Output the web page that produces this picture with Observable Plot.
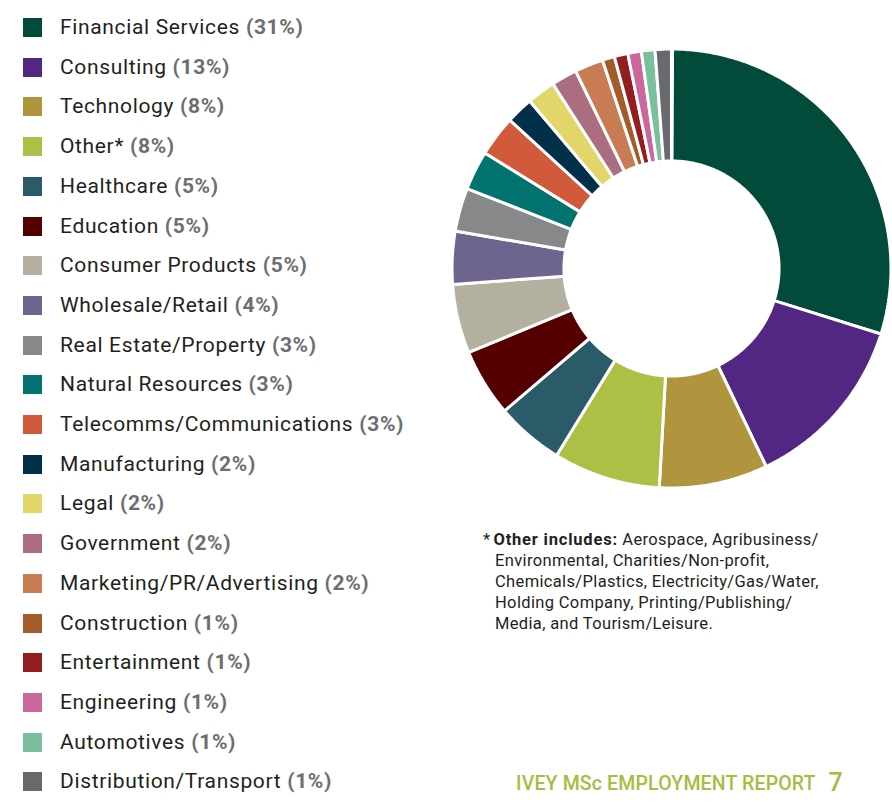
<!DOCTYPE html>
<html>
<head>
<meta charset="utf-8">
<script src="https://cdn.jsdelivr.net/npm/d3@7"></script>
<script src="https://cdn.jsdelivr.net/npm/@observablehq/plot@0.6"></script>
<style>
  html, body { margin: 0; padding: 0; background: #fff; }
  body { width: 892px; height: 804px; position: relative; overflow: hidden; font-family: Roboto, "Noto Sans", sans-serif; color: #231f20; }
  #legend { position: absolute; left: 0; top: 0; }
  .row { position: absolute; left: 0; height: 24px; white-space: nowrap; }
  .sw { position: absolute; left: 23px; top: 2px; width: 19px; height: 19px; }
  .lab { position: absolute; left: 60px; top: -2px; font-size: 21px; line-height: 26px; letter-spacing: 0.65px; }
  .lab b { color: #6d6e71; font-weight: 700; }
  #chart { position: absolute; left: 450px; top: 47px; }
  #note { position: absolute; left: 483px; top: 529px; font-size: 16.5px; line-height: 21px; color: #231f20; letter-spacing: 0.35px; white-space: nowrap; }
  #note .line { padding-left: 12px; }
  #note .first { text-indent: -12px; }
  #note .star { margin-right: 3px; }
  #note b { font-weight: 700; letter-spacing: 0.8px; }
  #footer { position: absolute; left: 516px; top: 767px; color: #a8bc42; font-size: 19.5px; font-weight: 500; letter-spacing: 0.15px; white-space: nowrap; }
  #footer .num { font-size: 25px; margin-left: 13px; position: relative; top: 1px; }
</style>
</head>
<body>
<div id="legend"></div>
<div id="chart"></div>
<div id="note">
  <div class="line first"><span class="star">*</span><b>Other includes:</b> Aerospace, Agribusiness/</div>
  <div class="line">Environmental, Charities/Non-profit,</div>
  <div class="line">Chemicals/Plastics, Electricity/Gas/Water,</div>
  <div class="line">Holding Company, Printing/Publishing/</div>
  <div class="line">Media, and Tourism/Leisure.</div>
</div>
<div id="footer">IVEY MSc EMPLOYMENT REPORT<span class="num">7</span></div>
<script>
const categories = [
  "Financial Services", "Consulting", "Technology", "Other*", "Healthcare",
  "Education", "Consumer Products", "Wholesale/Retail", "Real Estate/Property",
  "Natural Resources", "Telecomms/Communications", "Manufacturing", "Legal",
  "Government", "Marketing/PR/Advertising", "Construction", "Entertainment",
  "Engineering", "Automotives", "Distribution/Transport"
];
const pctLabels = ["31%", "13%", "8%", "8%", "5%", "5%", "5%", "4%", "3%", "3%", "3%", "2%", "2%", "2%", "2%", "1%", "1%", "1%", "1%", "1%"];
// slice shares
const shares = [29.8, 13.1, 8.0, 7.9, 5.0, 5.0, 5.1, 3.9, 3.2, 2.9, 3.0, 2.0, 2.1, 1.9, 2.1, 0.9, 1.0, 1.0, 1.0, 1.2];
const colors = [
  "#024a3a", "#512783", "#b0953e", "#adbf45", "#2b5a69",
  "#550000", "#b3b09f", "#6d6490", "#87888a", "#037370",
  "#d05a3a", "#022f4a", "#e2d56a", "#ab6d80", "#c97c53",
  "#a35b2a", "#931d20", "#cc679d", "#7bc09c", "#696a6e"
];

// legend
const legend = document.getElementById("legend");
categories.forEach((c, i) => {
  const row = document.createElement("div");
  row.className = "row";
  row.style.top = (16 + i * 39.7) + "px";
  const sw = document.createElement("div");
  sw.className = "sw";
  sw.style.background = colors[i];
  const lab = document.createElement("div");
  lab.className = "lab";
  lab.innerHTML = c + " <b>(" + pctLabels[i] + ")</b>";
  row.appendChild(sw);
  row.appendChild(lab);
  legend.appendChild(row);
});

// donut geometry from d3.pie
const pie = d3.pie().sort(null).value(d => d.share).startAngle(0.005);
const rows = categories.map((c, i) => ({name: c, share: shares[i]}));
const arcs = pie(rows);
const R = 1, r0 = 0.49;
const pts = [];
arcs.forEach(a => {
  const n = Math.max(4, Math.ceil((a.endAngle - a.startAngle) / 0.01));
  for (let k = 0; k <= n; k++) {
    const t = a.startAngle + (a.endAngle - a.startAngle) * k / n;
    pts.push({name: a.data.name, x: R * Math.sin(t), y: R * Math.cos(t)});
  }
  for (let k = n; k >= 0; k--) {
    const t = a.startAngle + (a.endAngle - a.startAngle) * k / n;
    pts.push({name: a.data.name, x: r0 * Math.sin(t), y: r0 * Math.cos(t)});
  }
});

const plot = Plot.plot({
  width: 443,
  height: 443,
  margin: 0,
  x: {domain: [-1.007, 1.007], axis: null},
  y: {domain: [-1.007, 1.007], axis: null},
  color: {domain: categories, range: colors},
  marks: [
    Plot.line(pts, {x: "x", y: "y", z: "name", fill: "name", stroke: "white", strokeWidth: 3, curve: "linear-closed", strokeLinejoin: "miter"})
  ]
});
document.getElementById("chart").appendChild(plot);
</script>
</body>
</html>
